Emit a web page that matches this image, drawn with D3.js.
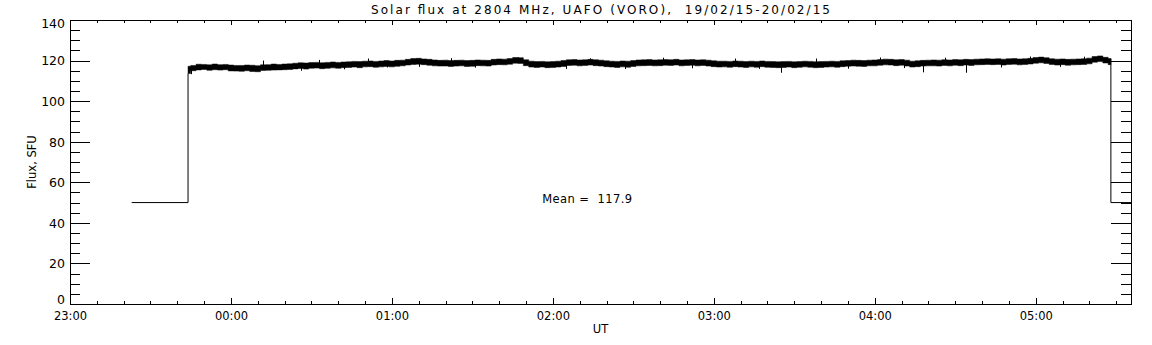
<!DOCTYPE html>
<html>
<head>
<meta charset="utf-8">
<script src="https://cdn.jsdelivr.net/npm/d3@7"></script>
<style>
    body { margin: 0; background: #fff; }
    svg { display: block; }
    text { font-family: "DejaVu Sans", sans-serif; fill: #000; }
</style>
</head>
<body>
<div id="chartcontainer"></div>
<script>
/* Solar flux at 2804 MHz, UAFO (VORO) - daily plot */

// Plot title and labels
var chartTitle = "Solar flux at 2804 MHz, UAFO (VORO),  19/02/15-20/02/15",
    xLabel = "UT",
    yLabel = "Flux, SFU",
    meanValue = 117.9;

// Axis ranges and ticks
var timeStart = "23:00",
    timeEnd = "05:35:30",
    fluxTicks = [0, 20, 40, 60, 80, 100, 120, 140],
    fluxMinorStep = 5;

// Calibration level before and after the solar record
var baseLevel = 50,
    baseStart = "23:23",
    baseEnd = "05:35:30";

// Solar record: one sample every 2 minutes, min / max of the band
var bandStart = "23:44",
    bandStepMinutes = 2;

var bandLow = [
    113.6, 115.0, 115.4, 115.6, 115.2, 115.5, 115.3, 115.5, 114.9, 114.8,
    114.7, 115.0, 114.6, 114.5, 115.1, 115.2, 115.3, 115.4, 115.5, 115.6,
    115.9, 116.1, 115.8, 116.2, 116.3, 116.0, 116.2, 116.4, 116.2, 116.5,
    116.6, 116.8, 116.5, 116.9, 117.0, 116.7, 116.9, 117.1, 116.9, 117.2,
    117.4, 117.8, 118.1, 118.2, 118.0, 117.7, 117.4, 117.3, 117.3, 117.1,
    117.3, 117.4, 117.1, 117.2, 117.5, 117.4, 117.3, 117.8, 118.0, 117.9,
    118.2, 118.7, 118.6, 117.5, 116.8, 116.6, 116.8, 116.5, 116.6, 116.8,
    117.1, 117.6, 117.7, 117.4, 117.6, 117.8, 117.5, 117.3, 117.0, 116.8,
    116.6, 116.9, 116.7, 117.1, 117.4, 117.5, 117.6, 117.4, 117.5, 117.7,
    117.6, 117.8, 117.4, 117.6, 117.7, 117.4, 117.6, 117.3, 117.0, 116.8,
    116.9, 116.7, 117.0, 116.8, 116.6, 116.9, 116.7, 117.0, 116.7, 116.6,
    116.5, 116.6, 116.8, 116.5, 116.7, 116.9, 116.7, 116.5, 116.6, 116.8,
    116.9, 116.7, 117.0, 117.2, 117.3, 117.2, 117.1, 117.4, 117.4, 117.7,
    117.9, 117.8, 117.5, 117.7, 117.3, 116.8, 117.0, 117.3, 117.4, 117.4,
    117.3, 117.6, 117.4, 117.7, 117.5, 117.8, 117.6, 117.9, 118.0, 118.1,
    118.0, 118.1, 117.8, 118.1, 118.2, 117.9, 118.1, 118.3, 118.7, 118.9,
    118.6, 118.1, 117.8, 118.0, 117.7, 117.9, 118.0, 118.1, 118.4, 119.2,
    119.5, 118.8, 118.0
];

var bandHigh = [
    117.2, 117.6, 118.2, 118.1, 117.9, 118.3, 118.0, 118.1, 117.8, 117.6,
    117.6, 117.8, 117.7, 117.5, 117.9, 118.0, 118.3, 118.1, 118.3, 118.4,
    118.7, 118.9, 118.8, 119.0, 119.1, 118.9, 119.1, 119.3, 119.1, 119.3,
    119.4, 119.6, 119.5, 119.7, 119.8, 119.6, 119.8, 120.0, 119.8, 120.1,
    120.2, 120.6, 121.0, 121.1, 120.8, 120.6, 120.3, 120.1, 120.2, 120.0,
    120.1, 120.2, 120.0, 120.1, 120.3, 120.2, 120.1, 120.6, 120.8, 120.7,
    121.0, 121.5, 121.4, 120.4, 119.7, 119.5, 119.6, 119.4, 119.5, 119.7,
    120.0, 120.4, 120.5, 120.3, 120.4, 120.6, 120.4, 120.2, 119.9, 119.7,
    119.6, 119.8, 119.7, 120.0, 120.3, 120.4, 120.5, 120.3, 120.4, 120.5,
    120.4, 120.6, 120.3, 120.4, 120.5, 120.3, 120.4, 120.2, 119.9, 119.7,
    119.7, 119.6, 119.8, 119.7, 119.5, 119.7, 119.6, 119.8, 119.6, 119.5,
    119.4, 119.5, 119.6, 119.4, 119.5, 119.7, 119.6, 119.4, 119.5, 119.6,
    119.7, 119.6, 119.9, 120.0, 120.2, 120.1, 120.0, 120.2, 120.3, 120.5,
    120.7, 120.6, 120.4, 120.5, 120.2, 119.7, 119.9, 120.1, 120.2, 120.3,
    120.2, 120.4, 120.3, 120.5, 120.4, 120.6, 120.5, 120.7, 120.8, 120.9,
    120.8, 120.9, 120.7, 120.9, 121.0, 120.8, 120.9, 121.1, 121.5, 121.7,
    121.4, 120.9, 120.7, 120.8, 120.6, 120.7, 120.8, 120.9, 121.2, 122.0,
    122.3, 121.6, 121.0
];

// Isolated spikes that stick out of the band (below or above it)
var spikeTimes = [
    "23:45", "23:53", "00:07", "00:12", "00:19", "00:26", "00:33", "00:42",
    "00:51", "00:58", "01:10", "01:22", "01:31", "01:47", "02:05", "02:14",
    "02:27", "02:41", "02:52", "03:08", "03:17", "03:25", "03:38", "03:50",
    "04:02", "04:11", "04:18", "04:26", "04:34", "04:47", "04:58", "05:09",
    "05:18"
];
var spikeValues = [
    113.3, 115.8, 114.8, 120.0, 115.4, 115.0, 120.3, 115.7,
    121.0, 116.6, 116.9, 121.2, 116.5, 121.6, 115.9, 121.1,
    115.8, 121.4, 116.2, 121.0, 115.9, 114.0, 121.0, 116.0,
    121.5, 116.3, 114.2, 121.4, 114.0, 116.6, 122.0, 116.9,
    121.9
];

var meanLabelTime = "01:56";

function FluxPlot() {

    /*global d3 */

    var width = 1152,
        height = 345,
        margin = { top: 20, right: 21, bottom: 41, left: 70 },
        svg, x, y;

    /**
     * "HH:MM[:SS]" -> Date, evening hours belong to 19/02, the rest to 20/02
     */
    function toDate(s) {
        var p = s.split(":").map(Number),
            day = p[0] >= 12 ? 19 : 20;
        return new Date(Date.UTC(2015, 1, day, p[0], p[1], p[2] || 0));
    }

    function prepareSvg() {
        svg = d3.select("#chartcontainer")
            .append("svg")
            .attr("width", width)
            .attr("height", height);

        x = d3.scaleUtc()
            .domain([toDate(timeStart), toDate(timeEnd)])
            .range([margin.left, width - margin.right]);

        y = d3.scaleLinear()
            .domain([0, 140])
            .range([height - margin.bottom, margin.top]);
    }

    function noDomain(g) {
        g.select(".domain").remove();
    }

    function drawAxes() {
        var bottom = height - margin.bottom,
            right = width - margin.right,
            hours = x.ticks(d3.utcHour.every(1)),
            tenMinutes = x.ticks(d3.utcMinute.every(10)),
            minorFlux = d3.range(0, 140 + fluxMinorStep, fluxMinorStep);

        // frame
        svg.append("rect")
            .attr("x", margin.left + 0.5)
            .attr("y", margin.top + 0.5)
            .attr("width", right - margin.left)
            .attr("height", bottom - margin.top)
            .attr("fill", "none")
            .attr("stroke", "#000")
            .attr("shape-rendering", "crispEdges");

        // bottom axis
        svg.append("g")
            .attr("transform", "translate(0," + bottom + ")")
            .call(d3.axisBottom(x).tickValues(tenMinutes).tickSize(-3).tickFormat(""))
            .call(noDomain);
        svg.append("g")
            .attr("class", "xaxis")
            .attr("transform", "translate(0," + bottom + ")")
            .call(d3.axisBottom(x).tickValues(hours).tickSize(-6).tickPadding(8)
                .tickFormat(d3.utcFormat("%H:%M")))
            .call(noDomain);

        // top axis
        svg.append("g")
            .attr("transform", "translate(0," + margin.top + ")")
            .call(d3.axisTop(x).tickValues(tenMinutes).tickSize(-3).tickFormat(""))
            .call(noDomain);
        svg.append("g")
            .attr("transform", "translate(0," + margin.top + ")")
            .call(d3.axisTop(x).tickValues(hours).tickSize(-5).tickFormat(""))
            .call(noDomain);

        // left axis
        svg.append("g")
            .attr("transform", "translate(" + margin.left + ",0)")
            .call(d3.axisLeft(y).tickValues(minorFlux).tickSize(-10).tickFormat(""))
            .call(noDomain);
        svg.append("g")
            .attr("class", "yaxis")
            .attr("transform", "translate(" + margin.left + ",0)")
            .call(d3.axisLeft(y).tickValues(fluxTicks).tickSize(-20).tickPadding(5))
            .call(noDomain);

        // right axis
        svg.append("g")
            .attr("transform", "translate(" + right + ",0)")
            .call(d3.axisRight(y).tickValues(minorFlux).tickSize(-10).tickFormat(""))
            .call(noDomain);
        svg.append("g")
            .attr("transform", "translate(" + right + ",0)")
            .call(d3.axisRight(y).tickValues(fluxTicks).tickSize(-20).tickFormat(""))
            .call(noDomain);

        svg.selectAll(".tick line").attr("shape-rendering", "crispEdges");

        svg.selectAll(".xaxis text")
            .style("font-family", "'DejaVu Sans', sans-serif")
            .style("font-size", "11.5px");

        svg.selectAll(".yaxis text")
            .style("font-family", "'DejaVu Sans', sans-serif")
            .style("font-size", "12.5px")
            .attr("dy", function (d) {
                // end labels are pulled inside the axis range
                if (d === 0) { return "-0.02em"; }
                if (d === 140) { return "0.6em"; }
                return "0.35em";
            });

        // titles
        svg.append("text")
            .attr("x", (margin.left + right) / 2)
            .attr("y", 14)
            .attr("text-anchor", "middle")
            .attr("textLength", 459)
            .attr("lengthAdjust", "spacing")
            .style("font-size", "12px")
            .style("white-space", "pre")
            .text(chartTitle);

        svg.append("text")
            .attr("x", (margin.left + right) / 2)
            .attr("y", 333)
            .attr("text-anchor", "middle")
            .style("font-size", "11.5px")
            .text(xLabel);

        svg.append("text")
            .attr("transform", "translate(36," + (margin.top + bottom) / 2 + ") rotate(-90)")
            .attr("text-anchor", "middle")
            .style("font-size", "11.5px")
            .text(yLabel);
    }

    function drawData() {
        var t0 = toDate(bandStart),
            stepMs = bandStepMinutes * 60000,
            line = d3.line().x(function (d) { return x(d[0]); }).y(function (d) { return y(d[1]); }),
            band, first, last, spikes;

        band = bandLow.map(function (lo, i) {
            return { t: new Date(t0.getTime() + i * stepMs), lo: lo, hi: bandHigh[i] };
        });
        first = band[0];
        last = band[band.length - 1];

        // calibration step in and out of the record
        svg.append("path")
            .datum([[toDate(baseStart), baseLevel], [first.t, baseLevel], [first.t, first.lo]])
            .attr("fill", "none")
            .attr("stroke", "#000")
            .attr("d", line);

        svg.append("path")
            .datum([[last.t, last.hi], [last.t, baseLevel], [toDate(baseEnd), baseLevel]])
            .attr("fill", "none")
            .attr("stroke", "#000")
            .attr("d", line);

        svg.append("path")
            .datum(band)
            .attr("fill", "#000")
            .attr("stroke", "#000")
            .attr("stroke-width", 0.5)
            .attr("d", d3.area()
                .curve(d3.curveStep)
                .x(function (d) { return x(d.t); })
                .y0(function (d) { return y(d.lo); })
                .y1(function (d) { return y(d.hi); }));

        spikes = spikeTimes.map(function (s, i) {
            var t = toDate(s),
                k = Math.max(0, Math.min(band.length - 1, Math.round((t - t0) / stepMs))),
                v = spikeValues[i],
                mid = (band[k].lo + band[k].hi) / 2;
            return { t: t, v: v, from: mid };
        });
        svg.append("g").selectAll("line")
            .data(spikes)
            .enter().append("line")
            .attr("x1", function (d) { return Math.round(x(d.t)) + 0.5; })
            .attr("x2", function (d) { return Math.round(x(d.t)) + 0.5; })
            .attr("y1", function (d) { return y(d.from); })
            .attr("y2", function (d) { return y(d.v); })
            .attr("stroke", "#000")
            .attr("stroke-width", 1);

        svg.append("text")
            .attr("x", x(toDate(meanLabelTime)))
            .attr("y", y(baseLevel))
            .attr("textLength", 90)
            .attr("lengthAdjust", "spacing")
            .style("font-size", "11.5px")
            .style("white-space", "pre")
            .text("Mean =  " + meanValue.toFixed(1));
    }

    prepareSvg();
    drawAxes();
    drawData();
}

FluxPlot();
</script>
</body>
</html>
